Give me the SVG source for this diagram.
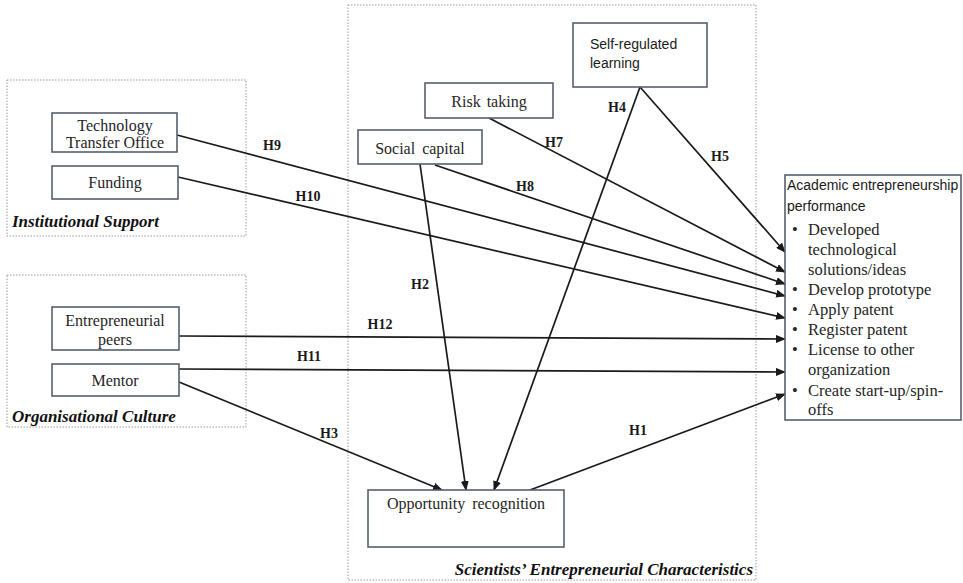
<svg xmlns="http://www.w3.org/2000/svg" width="963" height="583" viewBox="0 0 963 583">
<style>
.grp{fill:none;stroke:#9a9a9a;stroke-width:1;stroke-dasharray:1.5 1.5}
.box{fill:#fff;stroke:#56606e;stroke-width:1.6}
.t{font-family:"Liberation Serif","Times New Roman",serif;font-size:16px;fill:#262626;text-anchor:middle}
.s{font-family:"Liberation Sans",Arial,sans-serif;font-size:14px;fill:#1a1a1a}
.b{font-family:"Liberation Serif","Times New Roman",serif;font-size:16.5px;fill:#262626}
.lab{font-family:"Liberation Serif","Times New Roman",serif;font-size:14px;font-weight:bold;fill:#1a1a1a;text-anchor:middle}
.sec{font-family:"Liberation Serif","Times New Roman",serif;font-size:17px;font-weight:bold;font-style:italic;fill:#111}
.c line{stroke:#1a1a1a;stroke-width:1.7;marker-end:url(#ah)}
</style>
<defs>
<marker id="ah" markerUnits="userSpaceOnUse" markerWidth="10" markerHeight="8" refX="9" refY="4" orient="auto">
<path d="M0,0 L10,4 L0,8 Z" fill="#1a1a1a"/>
</marker>
</defs>
<rect width="963" height="583" fill="#fff"/>

<g id="group-institutional">
<rect class="grp" x="7" y="80" width="239" height="156"/>
<text class="sec" x="12" y="227">Institutional Support</text>
</g>
<g id="group-organisational">
<rect class="grp" x="7" y="275" width="239" height="152"/>
<text class="sec" x="12" y="422">Organisational Culture</text>
</g>
<g id="group-scientists">
<rect class="grp" x="348" y="5" width="408" height="575"/>
<text class="sec" x="753" y="575" text-anchor="end">Scientists’ Entrepreneurial Characteristics</text>
</g>

<g class="c" id="connectors">
<line x1="640" y1="87" x2="785" y2="252"/>
<line x1="489" y1="118" x2="785" y2="272"/>
<line x1="435" y1="165" x2="785" y2="284"/>
<line x1="177" y1="135" x2="785" y2="296"/>
<line x1="178" y1="177" x2="785" y2="318"/>
<line x1="179" y1="336" x2="785" y2="339"/>
<line x1="179" y1="369" x2="785" y2="372"/>
<line x1="530" y1="490" x2="785" y2="394"/>
<line x1="179" y1="382" x2="442" y2="490"/>
<line x1="420" y1="164" x2="466" y2="490"/>
<line x1="640" y1="87" x2="494" y2="490"/>
<text class="lab" x="272" y="150">H9</text>
<text class="lab" x="308" y="201">H10</text>
<text class="lab" x="309" y="361">H11</text>
<text class="lab" x="380" y="329">H12</text>
<text class="lab" x="329" y="438">H3</text>
<text class="lab" x="420" y="289">H2</text>
<text class="lab" x="525" y="191">H8</text>
<text class="lab" x="554" y="147">H7</text>
<text class="lab" x="617" y="112">H4</text>
<text class="lab" x="720" y="161">H5</text>
<text class="lab" x="638" y="435">H1</text>
</g>

<g id="node-tto">
<rect class="box" x="52" y="113" width="125" height="39"/>
<text class="t" x="115" y="131">Technology</text>
<text class="t" x="115" y="148">Transfer Office</text>
</g>
<g id="node-funding">
<rect class="box" x="52" y="166" width="126" height="33"/>
<text class="t" x="115" y="188">Funding</text>
</g>
<g id="node-peers">
<rect class="box" x="52" y="307" width="127" height="43"/>
<text class="t" x="115" y="326">Entrepreneurial</text>
<text class="t" x="115" y="345">peers</text>
</g>
<g id="node-mentor">
<rect class="box" x="52" y="364" width="127" height="32"/>
<text class="t" x="115" y="386">Mentor</text>
</g>
<g id="node-social">
<rect class="box" x="358" y="130" width="124" height="34"/>
<text class="t" x="420" y="154" word-spacing="3">Social capital</text>
</g>
<g id="node-risk">
<rect class="box" x="425" y="83" width="128" height="35"/>
<text class="t" x="489" y="107" word-spacing="2">Risk taking</text>
</g>
<g id="node-selfreg">
<rect class="box" x="573" y="23" width="134" height="64"/>
<text class="s" x="590" y="49">Self-regulated</text>
<text class="s" x="590" y="68">learning</text>
</g>
<g id="node-opportunity">
<rect class="box" x="368" y="490" width="196" height="57"/>
<text class="t" x="466" y="509" word-spacing="3">Opportunity recognition</text>
</g>
<g id="node-performance">
<rect class="box" x="785" y="175" width="176" height="245"/>
<text class="s" x="787" y="190" font-size="14.5">Academic entrepreneurship</text>
<text class="s" x="787" y="211" font-size="14.5">performance</text>
<g class="b">
<text x="792" y="235">•</text><text x="808" y="235">Developed</text>
<text x="808" y="255">technological</text>
<text x="808" y="275">solutions/ideas</text>
<text x="792" y="295">•</text><text x="808" y="295">Develop prototype</text>
<text x="792" y="315">•</text><text x="808" y="315">Apply patent</text>
<text x="792" y="335">•</text><text x="808" y="335">Register patent</text>
<text x="792" y="355">•</text><text x="808" y="355">License to other</text>
<text x="808" y="375">organization</text>
<text x="792" y="396">•</text><text x="808" y="396">Create start-up/spin-</text>
<text x="808" y="415">offs</text>
</g>
</g>
</svg>
